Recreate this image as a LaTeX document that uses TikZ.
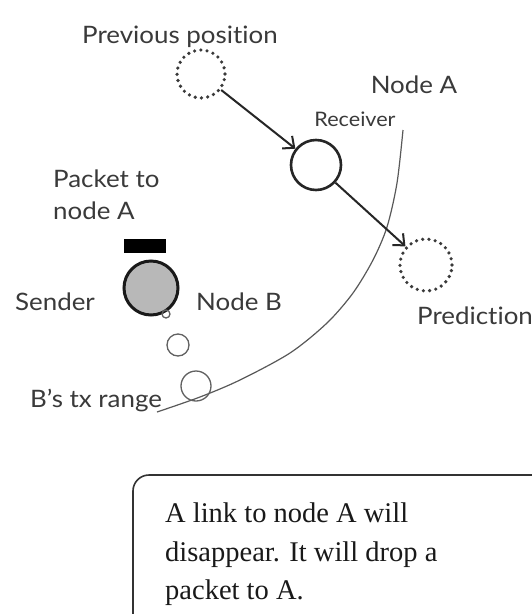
\documentclass[tikz,border=0pt]{standalone}
\usepackage{fontspec}
\setmainfont{Liberation Serif}
\setsansfont[FakeStretch=1.08, Ligatures=NoCommon]{Lato}
\usetikzlibrary{arrows.meta}
\definecolor{ink}{HTML}{3A3A3A}
\tikzset{
  lbl/.style={font=\sffamily\fontsize{24}{28}\selectfont, text=ink, inner sep=0pt},
  smalllbl/.style={font=\sffamily\fontsize{20}{24}\selectfont, text=ink, inner sep=0pt},
  dotcirc/.style={circle, draw=ink, line width=3.6pt, line cap=round, dash pattern=on 0pt off 6.3pt, inner sep=0pt},
  solidcirc/.style={circle, draw=black!85, line width=2.6pt, inner sep=0pt},
  thincirc/.style={circle, draw=ink!80, line width=1.3pt, inner sep=0pt},
  movearrow/.style={draw=black!85, line width=2pt, -{Straight Barb[length=9pt,width=16pt,line width=2pt]}},
  arcline/.style={draw=black!65, line width=1.2pt},
  boxtext/.style={font=\fontsize{28.5}{39}\selectfont, text=black!90, inner sep=0pt, anchor=base west}
}
\begin{document}
\begin{tikzpicture}[x=1pt,y=-1pt]
\useasboundingbox (0,0) rectangle (532,614);
\clip (0,0) rectangle (532,614);
\fill[white] (0,0) rectangle (532,614);

% big range arc of node A
\draw[arcline] plot[smooth] coordinates {(403,130) (397,183) (387,227) (373,260) (353,293) (327,323) (290,353) (240,380) (200,397) (157,412)};

% positions of node A
\node[dotcirc, minimum size=48pt] (prev) at (201,74) {};
\node[solidcirc, minimum size=50pt] (recv) at (316,165) {};
\node[dotcirc, minimum size=52pt] (pred) at (426,265) {};
\draw[movearrow] (prev) -- (recv);
\draw[movearrow] (recv) -- (pred);

% sender and small circles
\node[circle, draw=black!90, line width=3pt, fill=black!28, minimum size=54pt, inner sep=0pt] (sender) at (151,288) {};
\node[thincirc, minimum size=8pt] (c1) at (166,314) {};
\node[thincirc, minimum size=22pt] (c2) at (178,345) {};
\node[thincirc, minimum size=30pt] (c3) at (196,386) {};
\node[fill=black, minimum width=42pt, minimum height=14pt, inner sep=0pt] (packet) at (145,246) {};

% labels
\node[lbl] (lprev) at (180,37) {Previous position};
\node[lbl] (lnodea) at (414,85) {Node A};
\node[smalllbl] (lrecv) at (355,119) {Receiver};
\node[lbl, anchor=west] (lpk1) at (53,179) {Packet to};
\node[lbl, anchor=west] (lpk2) at (53,211) {node A};
\node[lbl] (lsender) at (55,302) {Sender};
\node[lbl] (lnodeb) at (239,302) {Node B};
\node[lbl, anchor=west] (lpred) at (417,316) {Prediction};
\node[lbl] (lrange) at (96,401) {B's tx range};

% note box
\draw[draw=black!80, line width=1.6pt, rounded corners=16pt] (133,475) rectangle (580,660);
\node[boxtext] (t1) at (165,522) {A link to node A will};
\node[boxtext] (t2) at (165,561) {disappear. It will drop a};
\node[boxtext] (t3) at (165,599) {packet to A.};
\end{tikzpicture}
\end{document}
